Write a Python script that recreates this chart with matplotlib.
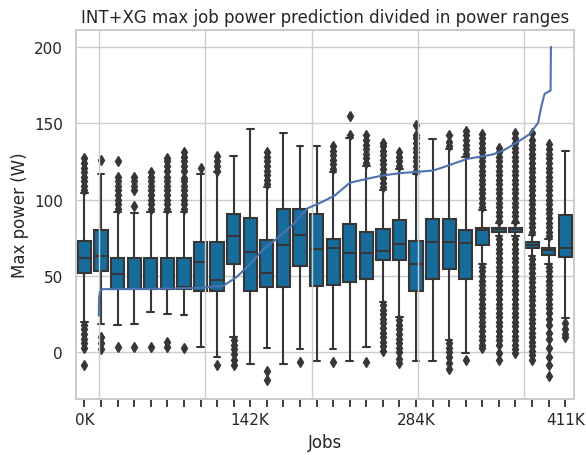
import matplotlib
matplotlib.use("Agg")
import matplotlib.pyplot as plt
import seaborn as sns

sns.set_theme(style="whitegrid")

# per-range box statistics of the predicted max power (W)
q1 = [51.7, 53.3, 41.4, 41.4, 41.4, 41.4, 41.4, 40.3, 40.3, 58.0,
      40.3, 42.5, 42.5, 56.5, 43.6, 44.0, 46.1, 47.9, 60.2, 60.2,
      40.3, 47.9, 54.3, 47.9, 70.5, 79.1, 79.1, 68.4, 64.0, 62.3]
med = [61.7, 63.2, 51.5, 41.4, 41.4, 41.4, 43.0, 59.1, 47.2, 76.3,
       66.0, 51.7, 70.5, 77.0, 67.9, 68.6, 64.9, 64.9, 66.2, 70.9,
       58.0, 72.0, 72.0, 71.6, 80.2, 80.6, 80.6, 70.2, 66.8, 68.4]
q3 = [73.0, 79.8, 61.7, 61.7, 61.7, 61.7, 61.7, 72.2, 72.2, 90.3,
      87.8, 73.7, 93.6, 93.6, 90.3, 74.0, 84.0, 78.5, 80.6, 86.5,
      72.7, 87.1, 87.1, 80.2, 81.7, 81.7, 81.7, 72.3, 68.4, 90.0]
whislo = [20.0, 18.8, 18.1, 18.8, 26.7, 25.2, 24.8, 3.7, -2.8, 10.1,
          -7.5, 2.6, -7.5, 2.2, -5.6, 2.2, -5.6, 3.7, 33.0, 23.0,
          -5.6, -5.6, 8.0, -0.2, 58.0, 76.0, 76.0, 63.0, 58.0, 22.5]
whishi = [104.0, 116.9, 92.0, 91.4, 92.0, 92.0, 92.0, 116.9, 118.0, 128.7,
          146.4, 108.0, 143.8, 134.8, 134.8, 118.0, 140.0, 122.0, 106.0, 120.0,
          117.0, 139.5, 133.0, 128.0, 93.0, 85.0, 85.0, 77.0, 74.0, 131.5]
fliers = [
    [106, 109, 112, 115, 118, 121, 124, 127, 18, 15, 12, 9, 6, 3, -8],
    [126, 10, 6, 2],
    [94, 97, 100, 103, 106, 109, 112, 115, 125.5, 3.5],
    [96, 106, 109, 112, 115, 3.5],
    [94, 97, 100, 103, 106, 109, 112, 115, 118, 3.5],
    [94, 97, 100, 103, 106, 109, 112, 115, 119, 122, 125, 127.5, 7, 3.5],
    [94, 97, 100, 103, 106, 109, 112, 114, 119, 122, 125, 128, 131, 3.2],
    [121],
    [119, 122, 125, 128.7, -8],
    [8, 5, 2, -1, -5, -8],
    [],
    [110, 113, 116, 119, 122, 125, 128, 131, -12, -18],
    [],
    [-6],
    [],
    [120, 123, 126, 129, 132, 135, -6],
    [142, 155],
    [124, 127, 130, 133, 136, 139, 142, -6],
    [108, 111, 114, 117, 120, 123, 126, 129, 132, 135, 137,
     31, 28, 25, 22, 19, 16, 13, 10, 7, 4, 1],
    [122, 125, 128, 131, 21, 18, 15, 12, 9, 6, 3, 0, -4, -7],
    [119, 122, 125, 128, 131, 134, 137, 140, 142, 149],
    [],
    [135, 138, 142, 6, 3, 0, -3, -7, -11],
    [130, 133, 136, 139, 142, 145, -5],
    [95, 98, 101, 104, 107, 110, 113, 116, 119, 122, 125, 128, 131, 134, 137, 140, 143,
     56, 53, 50, 47, 44, 41, 38, 35, 32, 29, 26, 23, 20, 17, 14, 11, 8, 5, 2.6],
    [86, 89, 92, 95, 98, 101, 104, 107, 110, 113, 116, 119, 122, 125, 128, 131, 134,
     74, 71, 68, 65, 62, 59, 56, 53, 50, 47, 44, 41, 38, 35, 32, 29, 26, 23, 20, 17,
     14, 11, 8, 5, -0.6, -5],
    [86, 89, 92, 95, 98, 101, 104, 107, 110, 113, 116, 119, 122, 125, 128, 131, 134,
     137, 140, 143.8,
     74, 71, 68, 65, 62, 59, 56, 53, 50, 47, 44, 41, 38, 35, 32, 29, 26, 23, 20, 17,
     14, 11, 8, 5, 2, -0.6],
    [79, 82, 85, 88, 91, 94, 97, 100, 103, 106, 109, 112, 115, 118, 121, 124, 127, 130,
     133, 136, 139, 143.8,
     61, 58, 55, 52, 49, 46, 43, 40, 37, 34, 31, 28, 25, 22, 19, 16, 13, 10, 7, 4, 1,
     -2, -5],
    [76, 79, 82, 85, 88, 91, 94, 97, 100, 103, 106, 109, 112, 115, 118, 121, 124, 127,
     130, 133, 136.3,
     56, 53, 50, 47, 44, 41, 38, 35, 32, 29, 26, 22, 18, 13, 9, 2.6, -3, -8, -15.3],
    [19, 15, 12, 10],
]
tick_labels = ["0K"] + [""] * 9 + ["142K"] + [""] * 9 + ["284K"] + [""] * 8 + ["411K"]

# sorted actual max power per job (thousands of jobs, W)
line_jobs_k = [0, 0.3, 1.4, 3.8, 47, 94, 117, 129, 142, 154.5, 166, 182, 196, 210,
               222, 236, 252, 267, 283, 314, 323, 346, 370, 380, 393, 405, 413,
               416, 419, 424.7, 425]
line_power = [24, 36, 40.3, 41.4, 41.5, 42.2, 43.6, 49, 57.6, 67.3, 73.7, 83.4,
              94.2, 98.5, 102.8, 111, 113.6, 115.8, 117.3, 119, 121, 126.6, 129.5,
              132, 137.4, 142.8, 150.3, 161, 169.2, 171.4, 200]

box_color = "#176c9c"
gray = "#363636"

fig = plt.figure(figsize=(5.86, 4.56), dpi=100)
ax = fig.add_axes([0.13, 0.1228, 0.8487, 0.8092])

stats = []
for i in range(len(q1)):
    stats.append({"q1": q1[i], "med": med[i], "q3": q3[i],
                  "whislo": whislo[i], "whishi": whishi[i], "fliers": fliers[i]})

ax.bxp(stats, positions=range(len(stats)), widths=0.8, patch_artist=True,
       boxprops=dict(facecolor=box_color, edgecolor=gray, linewidth=1.5),
       medianprops=dict(color=gray, linewidth=1.5),
       whiskerprops=dict(color=gray, linewidth=1.5),
       capprops=dict(color=gray, linewidth=1.5),
       flierprops=dict(marker="d", markersize=5, markerfacecolor=gray,
                       markeredgecolor=gray))

ax.set_xlim(-0.5, len(stats) - 0.5)
ax.set_ylim(-30.5, 211)
ax.set_xticks(range(len(stats)))
ax.set_xticklabels(tick_labels)
ax.xaxis.grid(False)
ax.tick_params(axis="x", bottom=True, length=6, width=1.25, color=".15")
ax.set_yticks([0, 50, 100, 150, 200])
ax.set_xlabel("Jobs")
ax.set_ylabel("Max power (W)")
ax.set_title("INT+XG max job power prediction divided in power ranges")

ax2 = ax.twiny()
ax2.plot(line_jobs_k, line_power, color="#4c72b0", linewidth=1.5)
ax2.set_xticks([0, 100, 200, 300, 400])
ax2.set_xticklabels([])
ax2.tick_params(axis="x", top=False, length=0)
ax2.grid(True, axis="x")
ax2.set_ylim(-30.5, 211)

fig.savefig("out.png", dpi=100)
